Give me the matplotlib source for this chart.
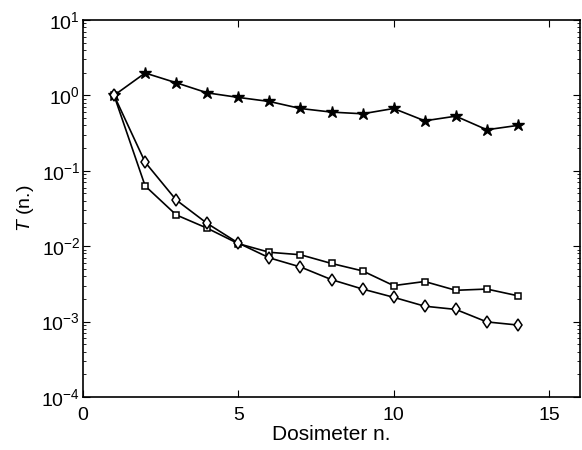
import matplotlib
matplotlib.use("Agg")
import matplotlib.pyplot as plt
from matplotlib.ticker import LogLocator, NullFormatter

plt.rcParams['font.family'] = ['Liberation Sans', 'DejaVu Sans']
plt.rcParams['mathtext.fontset'] = 'custom'
plt.rcParams['mathtext.rm'] = 'Liberation Sans'
plt.rcParams['mathtext.it'] = 'Liberation Sans:italic'

# data
dosimeter = [1, 2, 3, 4, 5, 6, 7, 8, 9, 10, 11, 12, 13, 14]
t_star = [1.0, 1.98, 1.47, 1.08, 0.94, 0.83, 0.67, 0.60, 0.57, 0.67, 0.46, 0.53, 0.35, 0.40]
t_square = [1.0, 0.063, 0.026, 0.0173, 0.0108, 0.0083, 0.0077, 0.0059, 0.0047,
            0.0030, 0.0034, 0.0026, 0.0027, 0.0022]
t_diamond = [1.0, 0.13, 0.041, 0.020, 0.011, 0.0070, 0.0053, 0.0036, 0.0027,
             0.0021, 0.0016, 0.00145, 0.00099, 0.0009]

fig = plt.figure(figsize=(5.82, 4.5), dpi=100)
ax = fig.add_axes([0.1426, 0.1178, 0.8540, 0.8378])

ax.plot(dosimeter, t_star, color='black', lw=1.2, marker='*', ms=9)
ax.plot(dosimeter, t_square, color='black', lw=1.2, marker='s', ms=5,
        markerfacecolor='white', markeredgewidth=1.1)
ax.plot(dosimeter, t_diamond, color='black', lw=1.2, marker='d', ms=6,
        markerfacecolor='white', markeredgewidth=1.1)

ax.set_yscale('log')
ax.set_xlim(0, 16)
ax.set_ylim(1e-4, 1e1)
ax.set_xticks([0, 5, 10, 15])
ax.yaxis.set_major_locator(LogLocator(base=10, numticks=10))
ax.yaxis.set_minor_locator(LogLocator(base=10, subs=range(2, 10), numticks=10))
ax.yaxis.set_minor_formatter(NullFormatter())

ax.tick_params(which='both', direction='in', top=True, right=True, labelsize=14)
ax.tick_params(which='major', length=5)
ax.tick_params(which='minor', length=2.5)
ax.tick_params(axis='x', pad=7)
ax.tick_params(axis='y', pad=2)
for s in ax.spines.values():
    s.set_linewidth(1.2)

ax.set_xlabel('Dosimeter n.', fontsize=15, labelpad=1)
ax.set_ylabel('$T$ (n.)', fontsize=14, labelpad=4)

fig.savefig('out.png', dpi=100)
